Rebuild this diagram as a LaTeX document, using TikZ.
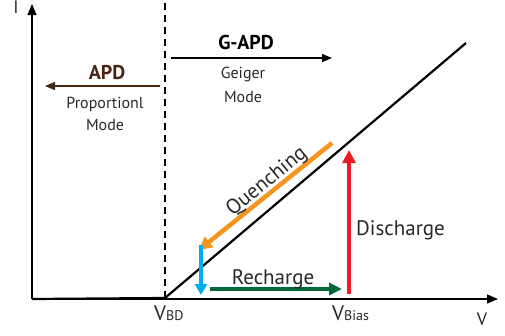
\documentclass[tikz,border=0pt]{standalone}
\usepackage{fontspec}
\setmainfont{PT Sans}
\usetikzlibrary{arrows.meta}
\definecolor{apdbrown}{RGB}{72,38,18}
\definecolor{txtgray}{RGB}{40,40,40}
\definecolor{qorange}{RGB}{247,148,29}
\definecolor{qcyan}{RGB}{0,174,239}
\definecolor{rgreen}{RGB}{0,104,56}
\definecolor{dred}{RGB}{237,28,36}
\tikzset{
  axis/.style={line width=1.2pt,-{Triangle[length=11pt,width=9pt]}},
  curve/.style={line width=2.2pt,black},
  modearrow/.style={line width=1.3pt,-{Triangle[length=10pt,width=8pt]}},
  fat/.style={line width=4.5pt,-{Triangle[length=13pt,width=13pt]}},
  lbl/.style={text=txtgray,font=\fontsize{16}{18}\selectfont,inner sep=0pt},
  big/.style={text=txtgray,font=\fontsize{21}{24}\selectfont,inner sep=0pt},
  head/.style={font=\fontsize{20}{22}\selectfont\bfseries,inner sep=0pt}
}
\begin{document}
\begin{tikzpicture}[x=1pt,y=-1pt]
\useasboundingbox (0,0) rectangle (505,335);
% axes
\coordinate (O) at (32,299);
\coordinate (Itop) at (32,4);
\coordinate (Vend) at (498,299);
\draw[axis] (O) -- (Itop);
\draw[axis] (O) -- (Vend);
\node[text=txtgray,font=\fontsize{18}{20}\selectfont,inner sep=0pt,anchor=base] (ilab) at (16,13) {I};
\node[text=txtgray,font=\fontsize{18}{20}\selectfont,inner sep=0pt,anchor=base] (vlab) at (482,325) {V};
% breakdown line and I-V curve
\coordinate (bd) at (165,298);
\coordinate (bdtop) at (165,0);
\coordinate (ctop) at (466,43);
\draw[line width=1.2pt,dash pattern=on 7pt off 5pt] (bd) -- (bdtop);
\draw[curve] (O) -- (bd) -- (ctop);
\node[big,anchor=base west] (vbd) at (154,320) {V{\fontsize{14}{16}\selectfont BD}};
\node[big,anchor=base west] (vbias) at (332,320) {V{\fontsize{14}{16}\selectfont Bias}};
% operating modes
\coordinate (apdA) at (160,86);
\coordinate (apdB) at (45,86);
\draw[modearrow,apdbrown] (apdA) -- (apdB);
\node[head,text=apdbrown,anchor=base] (apd) at (107,79) {APD};
\node[lbl,anchor=base] (prop) at (105,108) {Proportionl};
\node[lbl,anchor=base] (pmode) at (105,130) {Mode};
\coordinate (gA) at (171,58);
\coordinate (gB) at (332,58);
\draw[modearrow,black] (gA) -- (gB);
\node[head,anchor=base] (gapd) at (246,49) {G-APD};
\node[lbl,anchor=base] (geiger) at (243,78) {Geiger};
\node[lbl,anchor=base] (gmode) at (243,102) {Mode};
% avalanche cycle
\coordinate (qA) at (332,143);
\coordinate (qB) at (199,250);
\draw[fat,qorange] (qA) -- (qB);
\node[big,rotate=39.5,anchor=center] (quench) at (267,182) {Quenching};
\coordinate (cA) at (201,245);
\coordinate (cB) at (201,295);
\draw[fat,qcyan,-{Triangle[length=11pt,width=12pt]}] (cA) -- (cB);
\coordinate (rA) at (210,289);
\coordinate (rB) at (342,289);
\draw[fat,rgreen,-{Triangle[length=13pt,width=12pt]}] (rA) -- (rB);
\node[big,anchor=base] (rech) at (273,284) {Recharge};
\coordinate (dA) at (349,294);
\coordinate (dB) at (349,150);
\draw[fat,dred] (dA) -- (dB);
\node[big,anchor=base west] (dis) at (356,235) {Discharge};
\end{tikzpicture}
\end{document}
